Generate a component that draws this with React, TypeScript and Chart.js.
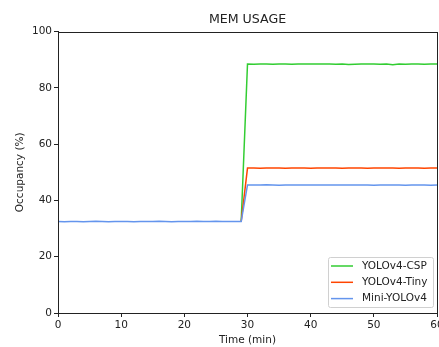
import React, { useEffect, useRef } from "react";
import { Chart, registerables } from "chart.js";

Chart.register(...registerables);

const minutes: number[] = Array.from({ length: 61 }, (_, i) => i);

const cspValues: number[] = [
  32.5, 32.4, 32.5, 32.5, 32.4, 32.5, 32.6, 32.5, 32.4, 32.5,
  32.5, 32.5, 32.4, 32.5, 32.5, 32.5, 32.6, 32.5, 32.4, 32.5,
  32.5, 32.5, 32.6, 32.5, 32.5, 32.6, 32.5, 32.5, 32.5, 32.5,
  88.5, 88.4, 88.5, 88.5, 88.4, 88.5, 88.5, 88.4, 88.5, 88.5,
  88.5, 88.5, 88.5, 88.5, 88.4, 88.5, 88.3, 88.4, 88.5, 88.5,
  88.5, 88.4, 88.5, 88.2, 88.5, 88.4, 88.5, 88.5, 88.4, 88.5,
  88.5,
];

const tinyValues: number[] = [
  32.5, 32.4, 32.5, 32.5, 32.4, 32.5, 32.6, 32.5, 32.4, 32.5,
  32.5, 32.5, 32.4, 32.5, 32.5, 32.5, 32.6, 32.5, 32.4, 32.5,
  32.5, 32.5, 32.6, 32.5, 32.5, 32.6, 32.5, 32.5, 32.5, 32.5,
  51.5, 51.5, 51.4, 51.5, 51.5, 51.5, 51.4, 51.5, 51.5, 51.5,
  51.4, 51.5, 51.5, 51.5, 51.5, 51.4, 51.5, 51.5, 51.5, 51.4,
  51.5, 51.5, 51.5, 51.5, 51.4, 51.5, 51.5, 51.5, 51.4, 51.5,
  51.5,
];

const miniValues: number[] = [
  32.5, 32.4, 32.5, 32.5, 32.4, 32.5, 32.6, 32.5, 32.4, 32.5,
  32.5, 32.5, 32.4, 32.5, 32.5, 32.5, 32.6, 32.5, 32.4, 32.5,
  32.5, 32.5, 32.6, 32.5, 32.5, 32.6, 32.5, 32.5, 32.5, 32.5,
  45.5, 45.5, 45.5, 45.6, 45.5, 45.4, 45.5, 45.5, 45.5, 45.5,
  45.5, 45.5, 45.5, 45.5, 45.5, 45.5, 45.5, 45.5, 45.5, 45.5,
  45.4, 45.5, 45.5, 45.5, 45.5, 45.4, 45.5, 45.5, 45.5, 45.4,
  45.5,
];

const seriesLabels: string[] = ["YOLOv4-CSP", "YOLOv4-Tiny", "Mini-YOLOv4"];
const seriesColors: string[] = ["#32cd32", "#ff4500", "#6495ed"];
const xTicks: number[] = [0, 10, 20, 30, 40, 50, 60];
const yTicks: number[] = [0, 20, 40, 60, 80, 100];

const FONT = "'DejaVu Sans', sans-serif";

const frameAndLegend = {
  id: "frameAndLegend",
  afterDatasetsDraw(chart: any) {
    const { ctx, chartArea } = chart;
    const { left, right, top, bottom } = chartArea;
    ctx.save();
    ctx.strokeStyle = "#222";
    ctx.lineWidth = 1;
    ctx.strokeRect(Math.round(left) + 0.5, Math.round(top) + 0.5, Math.round(right - left), Math.round(bottom - top));

    // legend
    const bw = 105;
    const bh = 50;
    const bx = right - 4 - bw;
    const by = bottom - 6 - bh;
    ctx.fillStyle = "rgba(255,255,255,0.8)";
    ctx.strokeStyle = "#d0d0d0";
    ctx.lineWidth = 1;
    ctx.beginPath();
    (ctx as any).roundRect(Math.round(bx) + 0.5, Math.round(by) + 0.5, bw, bh, 2);
    ctx.fill();
    ctx.stroke();
    ctx.font = `10.5px ${FONT}`;
    ctx.textBaseline = "middle";
    ctx.textAlign = "left";
    chart.data.datasets.forEach((ds: any, i: number) => {
      const y = by + 9 + i * 16.3;
      ctx.strokeStyle = ds.borderColor;
      ctx.lineWidth = 1.5;
      ctx.beginPath();
      ctx.moveTo(bx + 3, y);
      ctx.lineTo(bx + 25, y);
      ctx.stroke();
      ctx.fillStyle = "#222";
      ctx.fillText(ds.label, bx + 34, y);
    });
    ctx.restore();
  },
};

export default function App() {
  const ref = useRef<HTMLCanvasElement | null>(null);

  useEffect(() => {
    document.body.style.margin = "0";
    const canvas = ref.current;
    if (!canvas) return;
    const datasetsValues = [cspValues, tinyValues, miniValues];
    const last = datasetsValues.length - 1;
    const chart = new Chart(canvas, {
      type: "line",
      data: {
        datasets: datasetsValues.map((vals, i) => ({
          label: seriesLabels[i],
          data: minutes.map((m, j) => ({ x: m, y: vals[j] })),
          borderColor: seriesColors[i],
          backgroundColor: seriesColors[i],
          borderWidth: 1.5,
          pointRadius: 0,
          tension: 0,
          order: last - i,
          // segments hidden underneath the top (blue) series where they coincide
          segment:
            i === last
              ? undefined
              : {
                  borderColor: (c: any) =>
                    c.p0.parsed.y === datasetsValues[last][c.p0DataIndex] &&
                    c.p1.parsed.y === datasetsValues[last][c.p1DataIndex]
                      ? "rgba(0,0,0,0)"
                      : undefined,
                },
        })),
      },
      options: {
        animation: false,
        responsive: false,
        devicePixelRatio: 1,
        layout: { padding: { left: 0, right: 57, top: 0, bottom: 0 } },
        plugins: {
          legend: { display: false },
          tooltip: { enabled: false },
          title: {
            display: true,
            fullSize: false,
            text: "MEM USAGE",
            color: "#222",
            font: { family: FONT, size: 12.6, weight: "normal" },
            padding: { top: 12, bottom: 4.5 },
          },
        },
        scales: {
          x: {
            type: "linear",
            min: 0,
            max: 60,
            afterFit: (scale: any) => {
              scale.height = 34;
            },
            afterBuildTicks: (scale: any) => {
              scale.ticks = xTicks.map((v) => ({ value: v }));
            },
            ticks: {
              color: "#222",
              font: { family: FONT, size: 10.5 },
              padding: 2,
              maxRotation: 0,
              autoSkip: false,
            },
            grid: { drawOnChartArea: false, drawTicks: true, tickLength: 4, color: "#222" },
            border: { display: true, color: "#222" },
            title: {
              display: true,
              text: "Time (min)",
              color: "#222",
              font: { family: FONT, size: 10.5 },
              padding: { top: 0, bottom: 0 },
            },
          },
          y: {
            type: "linear",
            min: 0,
            max: 100,
            afterFit: (scale: any) => {
              scale.width = 58;
            },
            afterBuildTicks: (scale: any) => {
              scale.ticks = yTicks.map((v) => ({ value: v }));
            },
            ticks: {
              color: "#222",
              font: { family: FONT, size: 10.5 },
              padding: 2,
              autoSkip: false,
            },
            grid: { drawOnChartArea: false, drawTicks: true, tickLength: 4, color: "#222" },
            border: { display: true, color: "#222" },
            title: {
              display: true,
              text: "Occupancy (%)",
              color: "#222",
              font: { family: FONT, size: 10.5 },
              padding: { top: 13.5, bottom: 0 },
            },
          },
        },
      },
      plugins: [frameAndLegend],
    });
    return () => chart.destroy();
  }, []);

  return (
    <div style={{ width: 439, height: 347, overflow: "hidden", position: "relative", background: "#fff" }}>
      <canvas ref={ref} width={494} height={347} style={{ width: 494, height: 347, display: "block" }} />
    </div>
  );
}
